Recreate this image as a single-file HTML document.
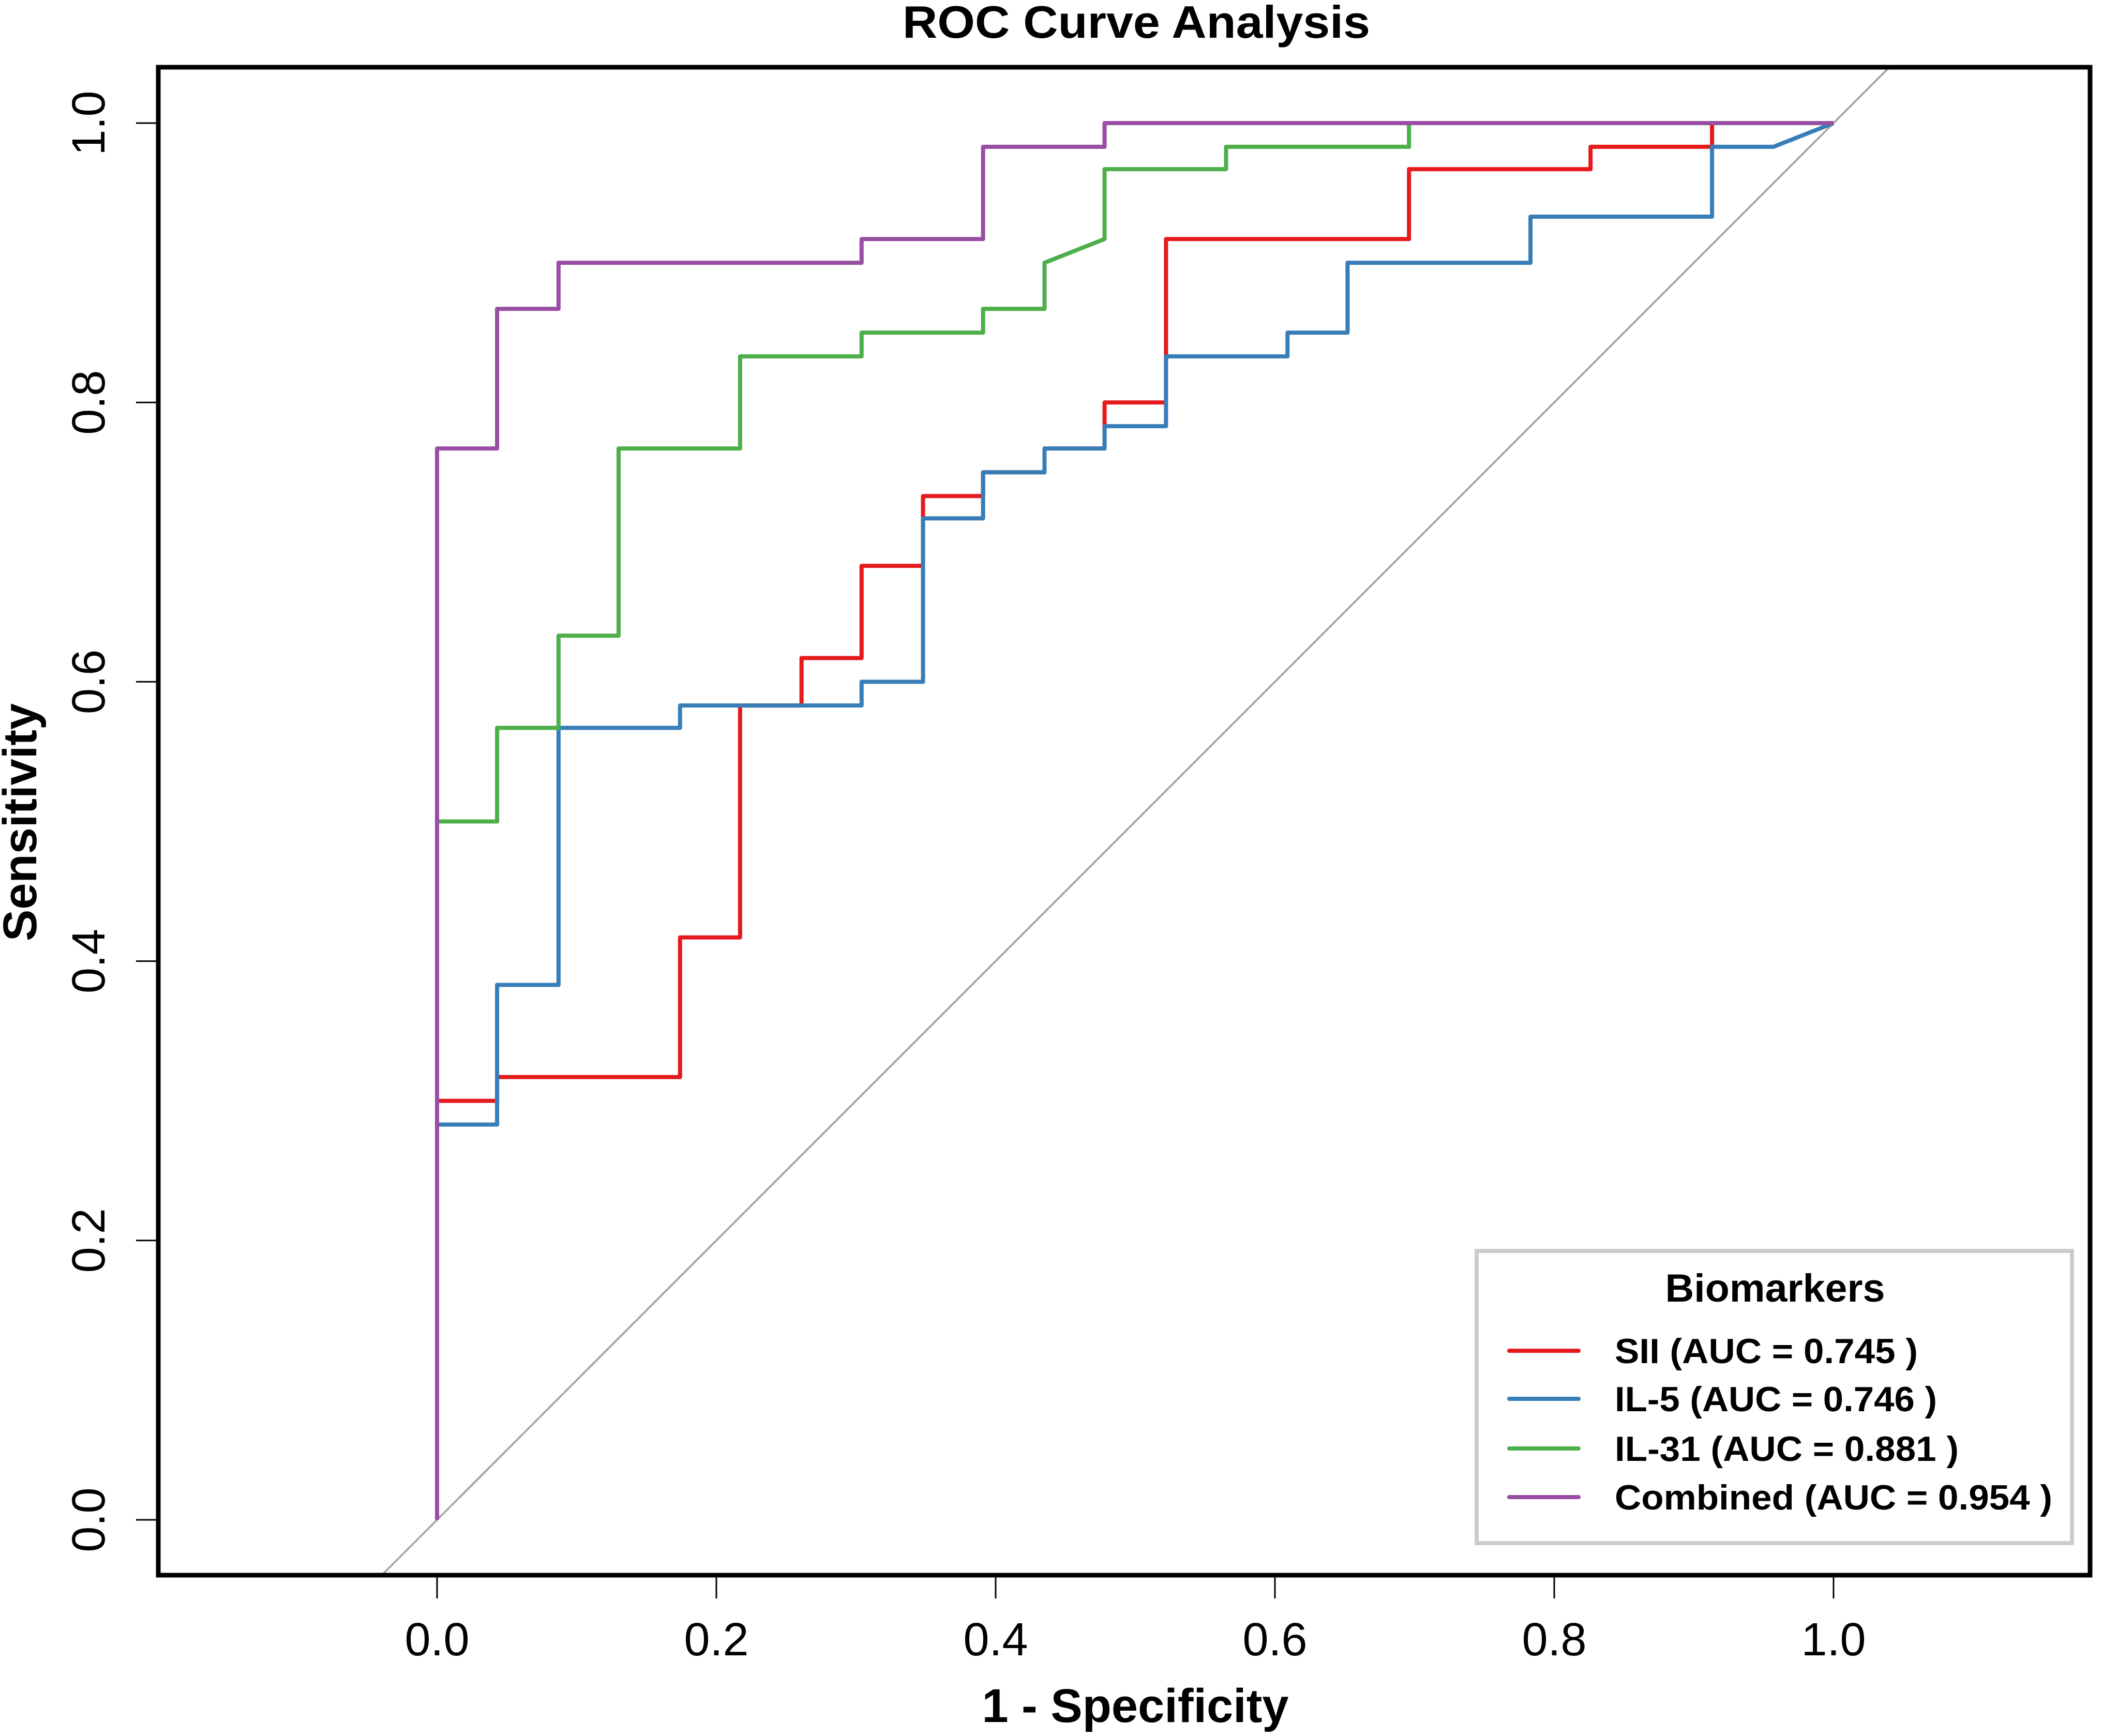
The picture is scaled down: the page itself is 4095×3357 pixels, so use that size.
<!DOCTYPE html>
<html><head><meta charset="utf-8"><style>
html,body{margin:0;padding:0;background:#fff;}
svg{display:block;font-family:"Liberation Sans",Arial,sans-serif;}
</style></head><body>
<svg id="chart" width="4095" height="3357" viewBox="0 0 4095 3357">
<rect x="0" y="0" width="4095" height="3357" fill="#fff"/>
<text x="2197" y="73" font-size="88" font-weight="bold" text-anchor="middle" textLength="904" lengthAdjust="spacingAndGlyphs">ROC Curve Analysis</text>
<text x="2195" y="3330" font-size="92" font-weight="bold" text-anchor="middle">1 - Specificity</text>
<text transform="translate(70,1590) rotate(-90)" font-size="92" font-weight="bold" text-anchor="middle">Sensitivity</text>
<defs><clipPath id="plotclip"><rect x="306" y="130" width="3735" height="2916"/></clipPath></defs>
<g id="ticks"></g>
<g id="plot" clip-path="url(#plotclip)"></g>
<rect x="306" y="130" width="3735" height="2916" fill="none" stroke="#000" stroke-width="9"/>
<g>
<rect x="2855" y="2419" width="1151" height="565" fill="#fff" stroke="#cccccc" stroke-width="8"/>
<text x="3432" y="2517" font-size="76" font-weight="bold" text-anchor="middle" textLength="425" lengthAdjust="spacingAndGlyphs">Biomarkers</text>
<g id="legend-entries"></g>
</g>
</svg>
<script>
const xTicks = [0.0, 0.2, 0.4, 0.6, 0.8, 1.0];
const yTicks = [0.0, 0.2, 0.4, 0.6, 0.8, 1.0];
const seriesNames = ["SII (AUC = 0.745 )", "IL-5 (AUC = 0.746 )", "IL-31 (AUC = 0.881 )", "Combined (AUC = 0.954 )"];
const siiFpr = [0,0.043,0.043,0.174,0.174,0.217,0.217,0.261,0.261,0.304,0.304,0.348,0.348,0.391,0.391,0.435,0.435,0.478,0.478,0.522,0.522,0.696,0.696,0.826,0.826,0.913,0.913,1];
const siiTpr = [0.3,0.3,0.317,0.317,0.417,0.417,0.583,0.583,0.617,0.617,0.683,0.683,0.733,0.733,0.75,0.75,0.767,0.767,0.8,0.8,0.917,0.917,0.967,0.967,0.983,0.983,1,1];
const il5Fpr = [0,0.043,0.043,0.087,0.087,0.174,0.174,0.304,0.304,0.348,0.348,0.391,0.391,0.435,0.435,0.478,0.478,0.522,0.522,0.609,0.609,0.652,0.652,0.783,0.783,0.913,0.913,0.957,1];
const il5Tpr = [0.283,0.283,0.383,0.383,0.567,0.567,0.583,0.583,0.6,0.6,0.717,0.717,0.75,0.75,0.767,0.767,0.783,0.783,0.833,0.833,0.85,0.85,0.9,0.9,0.933,0.933,0.983,0.983,1];
const il31Fpr = [0,0.043,0.043,0.087,0.087,0.13,0.13,0.217,0.217,0.304,0.304,0.391,0.391,0.435,0.435,0.478,0.478,0.565,0.565,0.696,0.696,1];
const il31Tpr = [0.5,0.5,0.567,0.567,0.633,0.633,0.767,0.767,0.833,0.833,0.85,0.85,0.867,0.867,0.9,0.917,0.967,0.967,0.983,0.983,1,1];
const combFpr = [0,0,0.043,0.043,0.087,0.087,0.304,0.304,0.391,0.391,0.478,0.478,1];
const combTpr = [0,0.767,0.767,0.867,0.867,0.9,0.9,0.917,0.917,0.983,0.983,1,1];

const NS = "http://www.w3.org/2000/svg";
const X0 = 845, X1 = 3545, Y0 = 2939, Y1 = 238;
function sx(v){ return X0 + v*(X1-X0); }
function sy(v){ return Y0 + v*(Y1-Y0); }
const colors = ["#E41A1C","#377EB8","#4DAF4A","#984EA3"];
const fprs = [siiFpr, il5Fpr, il31Fpr, combFpr];
const tprs = [siiTpr, il5Tpr, il31Tpr, combTpr];
const names = ["sii","il5","il31","combined"];
const legLens = [586, 623, 665, 846];

const ticks = document.getElementById('ticks');
xTicks.forEach(t=>{
  const l = document.createElementNS(NS,'line');
  l.setAttribute('x1',sx(t)); l.setAttribute('x2',sx(t));
  l.setAttribute('y1',3046); l.setAttribute('y2',3091);
  l.setAttribute('stroke','#000'); l.setAttribute('stroke-width','3');
  
  
  ticks.appendChild(l);
  const tx = document.createElementNS(NS,'text');
  tx.setAttribute('x',sx(t)); tx.setAttribute('y',3201);
  tx.setAttribute('font-size','90'); tx.setAttribute('text-anchor','middle');
  tx.textContent = t.toFixed(1);
  
  
  ticks.appendChild(tx);
});
yTicks.forEach(t=>{
  const l = document.createElementNS(NS,'line');
  l.setAttribute('y1',sy(t)); l.setAttribute('y2',sy(t));
  l.setAttribute('x1',263); l.setAttribute('x2',306);
  l.setAttribute('stroke','#000'); l.setAttribute('stroke-width','3');
  
  
  ticks.appendChild(l);
  const tx = document.createElementNS(NS,'text');
  tx.setAttribute('transform','translate(202,'+sy(t)+') rotate(-90)');
  tx.setAttribute('font-size','90'); tx.setAttribute('text-anchor','middle');
  tx.textContent = t.toFixed(1);
  
  
  ticks.appendChild(tx);
});

const plot = document.getElementById('plot');
const diag = document.createElementNS(NS,'line');
diag.setAttribute('x1',sx(-0.2)); diag.setAttribute('y1',sy(-0.2));
diag.setAttribute('x2',sx(1.2)); diag.setAttribute('y2',sy(1.2));
diag.setAttribute('stroke','#aaaaaa'); diag.setAttribute('stroke-width','4');


plot.appendChild(diag);

for(let i=0;i<4;i++){
  const pts = fprs[i].map((f,j)=>sx(f).toFixed(1)+','+sy(tprs[i][j]).toFixed(1)).join(' ');
  const pl = document.createElementNS(NS,'polyline');
  pl.setAttribute('points',pts);
  pl.setAttribute('fill','none'); pl.setAttribute('stroke',colors[i]);
  pl.setAttribute('stroke-width','8'); pl.setAttribute('stroke-linejoin','round');
  
  
  plot.appendChild(pl);
}

const leg = document.getElementById('legend-entries');
const legY = [2636, 2729, 2825, 2919];
for(let i=0;i<4;i++){
  const l = document.createElementNS(NS,'line');
  l.setAttribute('x1',2918); l.setAttribute('x2',3052);
  l.setAttribute('y1',legY[i]-24); l.setAttribute('y2',legY[i]-24);
  l.setAttribute('stroke',colors[i]); l.setAttribute('stroke-width','8'); l.setAttribute('stroke-linecap','round');
  
  
  leg.appendChild(l);
  const tx = document.createElementNS(NS,'text');
  tx.setAttribute('x',3122); tx.setAttribute('y',legY[i]);
  tx.setAttribute('font-size','68'); tx.setAttribute('font-weight','bold');
  tx.setAttribute('textLength',legLens[i]); tx.setAttribute('lengthAdjust','spacingAndGlyphs');
  tx.textContent = seriesNames[i];
  
  
  leg.appendChild(tx);
}
</script>
</body></html>
